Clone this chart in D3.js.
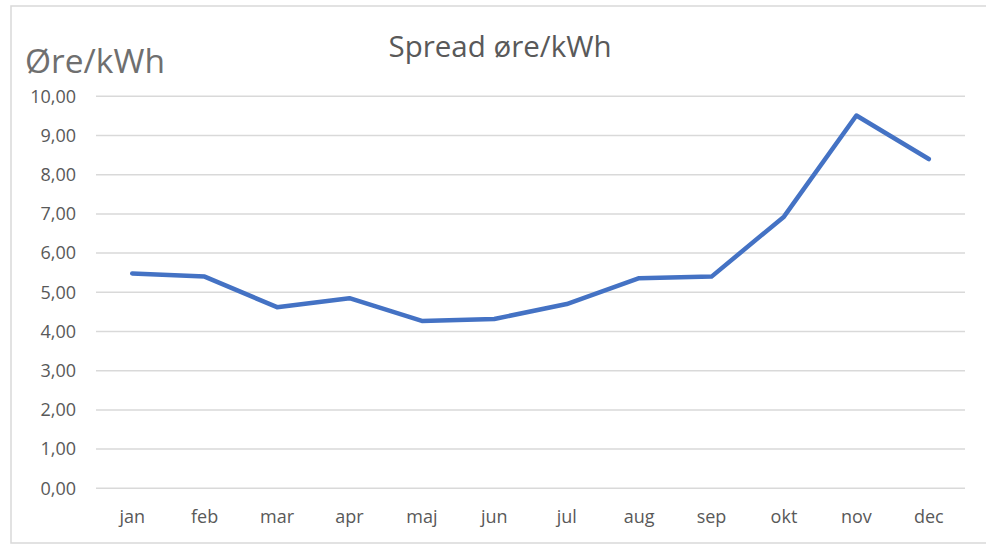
<!DOCTYPE html>
<html>
<head>
<meta charset="utf-8">
<script src="https://cdn.jsdelivr.net/npm/d3@7"></script>
<style>
  html, body { margin: 0; padding: 0; background: #fff; }
  svg { display: block; }
  text { font-family: "Open Sans", "Noto Sans", sans-serif; fill: #595959; }
</style>
</head>
<body>
<svg id="chart" width="986" height="545"></svg>
<script>
const months = ["jan","feb","mar","apr","maj","jun","jul","aug","sep","okt","nov","dec"];
const spread = [5.48, 5.40, 4.62, 4.85, 4.27, 4.32, 4.70, 5.36, 5.40, 6.93, 9.51, 8.40];
const yTicks = [0,1,2,3,4,5,6,7,8,9,10];
const titleText = "Spread øre/kWh";
const yLabelText = "Øre/kWh";

const svg = d3.select("#chart");

// chart frame
svg.append("rect")
  .attr("x", 11).attr("y", 6)
  .attr("width", 1000).attr("height", 537)
  .attr("fill", "#fff")
  .attr("stroke", "#d9d9d9").attr("stroke-width", 1.5);

const x = d3.scaleBand().domain(months).range([96, 965]);
const y = d3.scaleLinear().domain([0, 10]).range([488.3, 96.3]);

// gridlines
svg.append("g").selectAll("line").data(yTicks).join("line")
  .attr("x1", 96).attr("x2", 965)
  .attr("y1", d => y(d)).attr("y2", d => y(d))
  .attr("stroke", "#d9d9d9").attr("stroke-width", 1.5);

// y tick labels
const fmt = d => d3.format(".2f")(d).replace(".", ",");
svg.append("g").selectAll("text").data(yTicks).join("text")
  .attr("x", 76).attr("y", d => y(d))
  .attr("dy", "0.35em")
  .attr("text-anchor", "end")
  .attr("font-size", 18)
  .text(fmt);

// x labels
svg.append("g").selectAll("text").data(months).join("text")
  .attr("x", d => x(d) + x.bandwidth() / 2)
  .attr("y", 523)
  .attr("text-anchor", "middle")
  .attr("font-size", 18)
  .text(d => d);

// line
const line = d3.line()
  .x((d, i) => x(months[i]) + x.bandwidth() / 2)
  .y(d => y(d));
svg.append("path")
  .datum(spread)
  .attr("d", line)
  .attr("fill", "none")
  .attr("stroke", "#4472c4")
  .attr("stroke-width", 4.5)
  .attr("stroke-linejoin", "round")
  .attr("stroke-linecap", "round");

// title
svg.append("text")
  .attr("x", 500).attr("y", 57)
  .attr("text-anchor", "middle")
  .attr("font-size", 29.5)
  .text(titleText);

// y axis label
svg.append("text")
  .attr("x", 25).attr("y", 73)
  .attr("font-size", 33.5)
  .attr("fill", "#6f6f6f")
  .style("fill", "#6f6f6f")
  .text(yLabelText);
</script>
</body>
</html>
